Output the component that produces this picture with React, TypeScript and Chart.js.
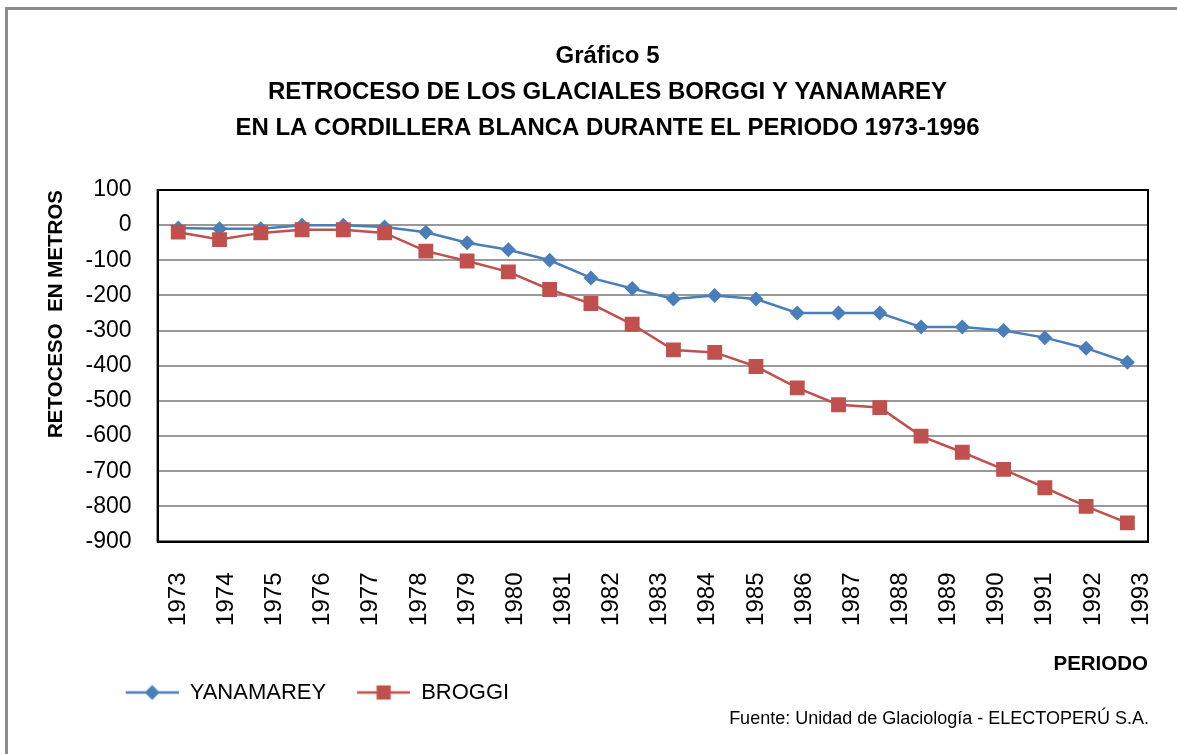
import { useEffect, useRef } from 'react';
import { Chart, registerables } from 'chart.js';

Chart.register(...registerables);

const FONT = '"Liberation Sans", Arial, Helvetica, sans-serif';
const BLUE = '#4a7ebb';
const RED = '#c0504d';

const categories = [
  '1973', '1974', '1975', '1976', '1977', '1978', '1979', '1980', '1981', '1982', '1983', '1984',
  '1985', '1986', '1987', '1988', '1989', '1990', '1991', '1992', '1993', '1994', '1995', '1996',
];
const tickLabels = [
  '1973', '1974', '1975', '1976', '1977', '1978', '1979', '1980', '1981', '1982', '1983',
  '1984', '1985', '1986', '1987', '1988', '1989', '1990', '1991', '1992', '1993',
];
const yanamarey = [
  -8, -10, -10, 0, 0, -5, -20, -50, -70, -100, -150, -180,
  -210, -200, -210, -250, -250, -250, -290, -290, -300, -320, -350, -390,
];
const broggi = [
  -20, -41, -22, -13, -13, -22, -74, -102, -133, -183, -223, -282,
  -355, -362, -402, -463, -511, -519, -600, -646, -695, -747, -800, -847,
];
const titleLines = [
  'Gráfico 5',
  'RETROCESO DE LOS GLACIALES BORGGI Y YANAMAREY',
  'EN LA CORDILLERA BLANCA DURANTE EL PERIODO 1973-1996',
];
const yTitle = 'RETOCESO  EN METROS';
const xTitle = 'PERIODO';
const footnote = 'Fuente: Unidad de Glaciología - ELECTOPERÚ S.A.';

function makeIcon(color: string, style: string, r: number) {
  const c = document.createElement('canvas');
  c.width = 78;
  c.height = 20;
  const g = c.getContext('2d')!;
  g.strokeStyle = color;
  g.lineWidth = 2.5;
  g.beginPath();
  g.moveTo(25, 10);
  g.lineTo(78, 10);
  g.stroke();
  g.fillStyle = color;
  const cx = 25 + 26.5;
  const cy = 10;
  g.beginPath();
  if (style === 'rectRot') {
    g.moveTo(cx, cy - r);
    g.lineTo(cx + r, cy);
    g.lineTo(cx, cy + r);
    g.lineTo(cx - r, cy);
    g.closePath();
  } else {
    const h = r * Math.SQRT1_2;
    g.rect(cx - h, cy - h, 2 * h, 2 * h);
  }
  g.fill();
  return c;
}

export default function App() {
  const ref = useRef<HTMLCanvasElement>(null);

  useEffect(() => {
    const canvas = ref.current!;
    Chart.defaults.font.family = FONT;
    Chart.defaults.color = '#000';

    const icons = [makeIcon(BLUE, 'rectRot', 7.5), makeIcon(RED, 'rect', 10)];

    const framePlugin = {
      id: 'framePlugin',
      afterLayout(chart: any) {
        if (chart.legend) chart.legend.left = chart.chartArea.left - 63;
        if (chart.titleBlock) {
          chart.titleBlock.left += 23;
          chart.titleBlock.right += 23;
        }
      },
      beforeDatasetsDraw(chart: any) {
        const { ctx, chartArea } = chart;
        ctx.save();
        ctx.strokeStyle = '#000';
        ctx.lineWidth = 2;
        ctx.strokeRect(chartArea.left, chartArea.top, chartArea.right - chartArea.left, chartArea.bottom - chartArea.top);
        ctx.restore();
      },
      afterDraw(chart: any) {
        const { ctx, chartArea } = chart;
        ctx.save();
        ctx.font = `18px ${FONT}`;
        ctx.fillStyle = '#000';
        ctx.textAlign = 'right';
        ctx.textBaseline = 'middle';
        ctx.fillText(footnote, chartArea.right + 1, chart.height - 35);
        ctx.restore();
      },
    };

    const chart = new Chart(canvas, {
      type: 'line',
      data: {
        labels: categories,
        datasets: [
          {
            label: 'YANAMAREY',
            data: yanamarey,
            borderColor: BLUE,
            backgroundColor: BLUE,
            borderWidth: 2.5,
            pointStyle: 'rectRot',
            pointRadius: 7.5,
            pointHoverRadius: 7.5,
            pointBorderWidth: 0,
            tension: 0,
            order: 1,
            xAxisID: 'x',
            yAxisID: 'y',
          },
          {
            label: 'BROGGI',
            data: broggi,
            borderColor: RED,
            backgroundColor: RED,
            borderWidth: 2.5,
            pointStyle: 'rect',
            pointRadius: 10.5,
            pointHoverRadius: 10.5,
            pointBorderWidth: 0,
            tension: 0,
            order: 0,
            xAxisID: 'x',
            yAxisID: 'y',
          },
        ],
      },
      options: {
        animation: false,
        responsive: true,
        maintainAspectRatio: false,
        events: [],
        layout: { padding: { left: 21, right: 29, top: 0, bottom: 40.5 } },
        plugins: {
          title: {
            display: true,
            text: titleLines,
            color: '#000',
            font: { family: FONT, size: 24, weight: 'bold', lineHeight: 1.5 },
            padding: { top: 38, bottom: 44 },
          },
          legend: {
            display: true,
            position: 'bottom',
            align: 'start',
            labels: {
              usePointStyle: true,
              pointStyleWidth: 78,
              padding: 6,
              color: '#000',
              font: { family: FONT, size: 22 },
              sort: (a: any, b: any) => a.datasetIndex - b.datasetIndex,
              generateLabels: (c: any) =>
                (Chart.defaults.plugins.legend.labels as any)
                  .generateLabels(c)
                  .map((item: any) => ({ ...item, pointStyle: icons[item.datasetIndex] })),
            },
          },
          tooltip: { enabled: false },
        },
        scales: {
          x: {
            type: 'category',
            display: false,
            offset: true,
          },
          x2: {
            type: 'linear',
            position: 'bottom',
            min: -0.5,
            max: categories.length - 0.5,
            afterBuildTicks: (scale: any) => {
              scale.ticks = tickLabels.map((_, k) => ({ value: (k * 7) / 6 }));
            },
            afterFit: (scale: any) => {
              scale.paddingLeft = 0;
              scale.paddingRight = 0;
            },
            grid: { display: false, drawTicks: false },
            border: { display: true, color: '#000', width: 2 },
            ticks: {
              autoSkip: false,
              minRotation: 90,
              maxRotation: 90,
              padding: 31,
              color: '#000',
              font: { family: FONT, size: 24 },
              callback: (_v: any, i: number) => tickLabels[i],
            },
            title: {
              display: true,
              text: xTitle,
              align: 'end',
              color: '#000',
              font: { family: FONT, size: 20.5, weight: 'bold' },
              padding: { top: -5, bottom: -1 },
            },
          },
          y: {
            type: 'linear',
            min: -900,
            max: 100,
            ticks: {
              stepSize: 100,
              padding: 26,
              color: '#000',
              font: { family: FONT, size: 23 },
            },
            grid: { color: '#999999', lineWidth: 2, drawTicks: false },
            border: { display: true, color: '#000', width: 2 },
            title: {
              display: true,
              text: yTitle,
              align: 'end',
              color: '#000',
              font: { family: FONT, size: 20.5, weight: 'bold' },
              padding: { top: 23.5, bottom: -9.5 },
            },
          },
        },
      } as any,
      plugins: [framePlugin],
    });

    return () => chart.destroy();
  }, []);

  return (
    <div style={{ position: 'fixed', left: 0, top: 0, width: 1177, height: 754, background: '#fff' }}>
      <div
        style={{
          position: 'absolute',
          left: 5,
          top: 7,
          width: 1200,
          height: 800,
          borderLeft: '3px solid #8c8c8c',
          borderTop: '3px solid #8c8c8c',
          pointerEvents: 'none',
        }}
      />
      <canvas ref={ref} style={{ position: 'absolute', left: 0, top: 0, width: 1177, height: 754 }} />
    </div>
  );
}
